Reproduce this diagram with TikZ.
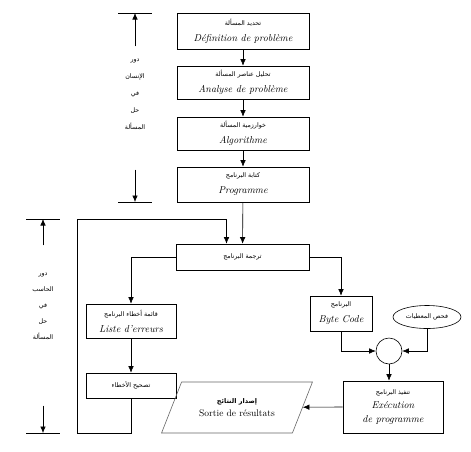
\documentclass[tikz,border=0pt]{standalone}
\usepackage{fontspec}
\usepackage{tikz}
\usetikzlibrary{arrows,arrows.meta,shapes.geometric}
\newfontfamily\arabicfont[Script=Arabic]{DejaVu Sans}
\TeXXeTstate=1
\newcommand{\artxt}[1]{{\arabicfont\fontsize{6.3}{7}\selectfont\beginR #1\endR}}
\newcommand{\frtxt}[1]{{\fontsize{10}{12}\selectfont\itshape #1}}
\tikzset{
  flownode/.style = {align=center, inner sep=0pt, text centered},
  bx/.style = {flownode, rectangle, draw=black, minimum width=132pt},% step box
  smallbx/.style = {flownode, rectangle, draw=black, minimum width=90pt},% left column box
  el/.style = {flownode, ellipse, draw=black, minimum width=68pt, minimum height=23pt},
  cr/.style = {circle, draw=black, minimum size=26pt, inner sep=0pt},
  pg/.style = {flownode, trapezium, trapezium left angle=53, trapezium right angle=127,
    trapezium stretches, draw=gray!80!black, minimum width=151pt, minimum height=51pt},% output
  role/.style = {flownode}
}

\begin{document}
\begin{tikzpicture}[x=1pt,y=-1pt,>={Latex[length=6.5pt,width=5.5pt]},line width=0.6pt]
\useasboundingbox (0,0) rectangle (471,451);

% human part
\node [bx, minimum height=36pt] (def) at (243,31)
  {\artxt{تحديد المسألة}\\[4pt]\frtxt{Définition de problème}};
\node [bx, minimum height=33pt] (ana) at (243,82.5)
  {\artxt{تحليل عناصر المسألة}\\[4pt]\frtxt{Analyse de problème}};
\node [bx, minimum height=33pt] (algo) at (243,133.5)
  {\artxt{خوارزمية المسألة}\\[4pt]\frtxt{Algorithme}};
\node [bx, minimum height=35pt] (prog) at (243,184.5)
  {\artxt{كتابة البرنامج}\\[4pt]\frtxt{Programme}};

% computer part
\node [bx, minimum width=133pt, minimum height=26pt] (trad) at (242.5,257)
  {\artxt{ترجمة البرنامج}};
\node [smallbx, minimum height=34pt] (liste) at (131,321)
  {\artxt{قائمة أخطاء البرنامج}\\[4pt]\frtxt{Liste d’erreurs}};
\node [smallbx, minimum height=25pt] (corr) at (131,385.5)
  {\artxt{تصحيح الأخطاء}};
\node [bx, minimum width=62pt, minimum height=35pt] (byte) at (341,313.5)
  {\artxt{البرنامج}\\[4pt]\frtxt{Byte Code}};
\node [el] (data) at (427,317) {\artxt{فحص المعطيات}};
\node [cr] (mix) at (389,351) {};
\node [bx, minimum width=100pt, minimum height=52pt] (exec) at (393,407)
  {\artxt{تنفيذ البرنامج}\\[2pt]\frtxt{Exécution}\\[2pt]\frtxt{de programme}};
\node [pg] (sortie) at (237,407.5)
  {{\arabicfont\fontsize{6.5}{8}\selectfont\bfseries\beginR إصدار النتائج\endR}\\[1pt]
   {\fontsize{9.5}{11}\selectfont Sortie de résultats}};

% role labels
\node [role] (human) at (135,94)
  {\artxt{دور}\\[5pt]\artxt{الإنسان}\\[5pt]\artxt{في}\\[5pt]\artxt{حل}\\[5pt]\artxt{المسألة}};
\node [role] (pc) at (43,306)
  {\artxt{دور}\\[4pt]\artxt{الحاسب}\\[4pt]\artxt{في}\\[4pt]\artxt{حل}\\[4pt]\artxt{المسألة}};
\coordinate (htop) at (135,13);
\coordinate (hbot) at (135,202);
\coordinate (ptop) at (43,219);
\coordinate (pbot) at (43,433);
\draw ([xshift=-17pt]htop) -- ([xshift=17pt]htop);
\draw ([xshift=-17pt]hbot) -- ([xshift=17pt]hbot);
\draw ([xshift=-17pt]ptop) -- ([xshift=17pt]ptop);
\draw ([xshift=-17pt]pbot) -- ([xshift=17pt]pbot);
\draw [->] ([yshift=12pt]human.north) -- (htop);
\draw [->] ([yshift=-40pt]human.south) -- (hbot);
\draw [->] ([yshift=27pt]pc.north) -- (ptop);
\draw [->] ([yshift=-66pt]pc.south) -- (pbot);

% connectors
\draw [->] (def) -- (ana);
\draw [->] (ana) -- (algo);
\draw [->] (algo) -- (prog);
\draw [->] (prog) -- (trad);
\draw [->] (trad.west) -| (liste.north);
\draw [->] (trad.east) -| (byte.north);
\draw [->] (liste) -- (corr);
\coordinate (loopbl) at (77,433);
\coordinate (looptl) at (77,219);
\draw [->] (corr.south) |- (loopbl) -- (looptl) -| ([xshift=-16pt]trad.north);
\draw [->] (byte.south) |- (mix.west);
\draw [->] (data.south) |- (mix.east);
\draw [->] (mix.south) -- (mix.south |- exec.north);
\draw [->] (exec.west) -- (sortie);
\end{tikzpicture}
\end{document}
